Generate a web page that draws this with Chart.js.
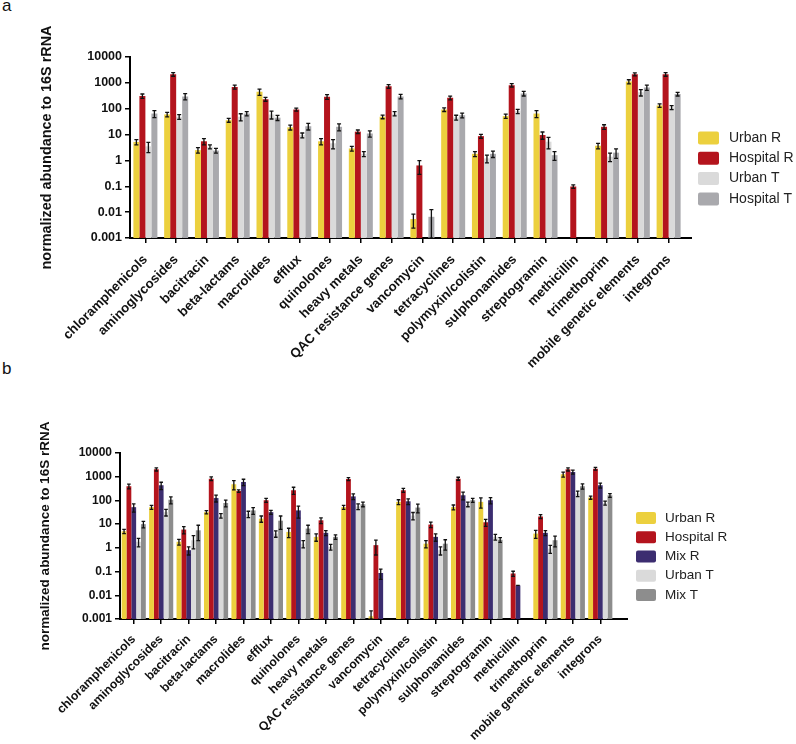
<!DOCTYPE html>
<html>
<head>
<meta charset="utf-8">
<script src="https://cdn.jsdelivr.net/npm/chart.js@4.4.1/dist/chart.umd.min.js"></script>
<style>
  body { margin: 0; background: #fff; }
  #wrap { position: relative; width: 796px; height: 744px; }
  canvas { position: absolute; left: 0; }
  #chartA { top: 0; }
  #chartB { top: 372px; }
  .panel { position: absolute; left: 2px; font: 17px 'Liberation Sans', Arial, sans-serif; color: #111; }
</style>
</head>
<body>
<div id="wrap">
  <div class="panel" style="top:-4px">a</div>
  <div class="panel" style="top:359px">b</div>
  <canvas id="chartA" width="796" height="372"></canvas>
  <canvas id="chartB" width="796" height="372"></canvas>
</div>
<script>
const categories = ['chloramphenicols', 'aminoglycosides', 'bacitracin', 'beta-lactams', 'macrolides', 'efflux',
  'quinolones', 'heavy metals', 'QAC resistance genes', 'vancomycin', 'tetracyclines', 'polymyxin/colistin',
  'sulphonamides', 'streptogramin', 'methicillin', 'trimethoprim', 'mobile genetic elements', 'integrons'];
const yTicks = [0.001, 0.01, 0.1, 1, 10, 100, 1000, 10000];
const yTitle = 'normalized abundance to 16S rRNA';

// panel a
const aUrbanR = [5.2, 60, 2.5, 36, 450, 19, 5.5, 2.9, 49, 0.0054, 93, 1.8, 52, 65, null, 3.7, 1120, 133];
const aHospitalR = [310, 2150, 5.5, 690, 234, 93, 290, 13, 740, 0.64, 263, 8.7, 810, 9.6, 0.098, 20, 2150, 2150];
const aUrbanT = [3.5, 49, 3.4, 49, 60, 9.5, 4.6, 1.8, 65, null, 46, 1.2, 80, 5.3, null, 1.4, 430, 112];
const aHospitalT = [65, 300, 2.4, 65, 45, 21, 20, 11, 300, 0.0066, 56, 1.8, 390, 1.6, null, 2.0, 660, 370];
const aUrbanRErr = [1.2, 12, 0.6, 6, 120, 4, 1.5, 0.6, 8, 0.003, 15, 0.4, 10, 20, null, 0.9, 200, 20];
const aHospitalRErr = [60, 350, 1.5, 120, 40, 12, 60, 2, 120, 0.35, 45, 1.5, 120, 3, 0.015, 4, 300, 350];
const aUrbanTErr = [1.5, 10, 0.6, 15, 20, 2, 1.8, 0.4, 12, null, 10, 0.4, 15, 2.5, null, 0.5, 120, 20];
const aHospitalTErr = [20, 80, 0.5, 12, 10, 6, 6, 3, 60, 0.006, 12, 0.5, 80, 0.6, null, 0.8, 150, 60];

// panel b
const bUrbanR = [5, 52, 1.8, 32, 480, 17, 4.7, 2.9, 52, 0.0013, 87, 1.5, 52, 87, null, 4, 1260, 132];
const bHospitalR = [400, 2040, 5.9, 830, 250, 102, 270, 14.5, 800, 1.3, 270, 9.6, 830, 12, 0.083, 21, 2040, 2190];
const bMixR = [52, 435, 0.8, 126, 600, 32, 38, 4.3, 148, 0.087, 92, 2.9, 165, 102, 0.026, 4.3, 1590, 435];
const bUrbanT = [1.8, 32, 2.1, 23, 27, 4, 1.5, 1.1, 56, null, 23, 0.8, 69, 2.9, null, 0.93, 195, 78];
const bMixT = [10, 107, 5.5, 78, 38, 14, 6.5, 2.9, 69, null, 50, 1.5, 102, 2.2, null, 2.1, 400, 165];
const bUrbanRErr = [1, 10, 0.5, 5, 200, 5, 2, 1, 10, 0.0009, 20, 0.5, 12, 40, null, 1.5, 300, 20];
const bHospitalRErr = [90, 300, 2, 150, 30, 20, 90, 4, 120, 0.8, 50, 2.5, 120, 4, 0.02, 4, 300, 300];
const bMixRErr = [20, 150, 0.3, 40, 180, 6, 20, 1, 40, 0.04, 25, 1, 60, 30, 0, 1, 300, 100];
const bUrbanTErr = [0.7, 10, 1.2, 5, 8, 1.2, 0.5, 0.3, 15, null, 8, 0.3, 15, 0.8, null, 0.35, 50, 15];
const bMixTErr = [3, 35, 3.5, 25, 12, 8, 2.5, 0.6, 15, null, 20, 0.7, 20, 0.5, null, 1, 100, 30];

const colors = {
  urbanR: '#ECD03E', hospitalR: '#B4141D', mixR: '#3C2D70',
  urbanT: '#DADADA', hospitalT: '#A9A9AD', mixT: '#8D8D8D'
};
const FONT = "'Liberation Sans', Arial, sans-serif";

// error bars drawn through the y scale
const errorBars = {
  id: 'errorBars',
  afterDatasetsDraw(chart, args, opts) {
    const ctx = chart.ctx, y = chart.scales.y;
    ctx.save();
    ctx.strokeStyle = '#111';
    ctx.lineWidth = 1.3;
    chart.data.datasets.forEach((ds, i) => {
      chart.getDatasetMeta(i).data.forEach((bar, j) => {
        const v = ds.data[j], e = ds.errors[j];
        if (v == null || e == null) return;
        const top = y.getPixelForValue(v + e);
        const bot = y.getPixelForValue(Math.max(v - e, y.min));
        const x = bar.x, c = opts.cap;
        ctx.beginPath();
        ctx.moveTo(x, top); ctx.lineTo(x, bot);
        ctx.moveTo(x - c, top); ctx.lineTo(x + c, top);
        ctx.moveTo(x - c, bot); ctx.lineTo(x + c, bot);
        ctx.stroke();
      });
    });
    ctx.restore();
  }
};

// legend on the right + small extension of the x axis line
const sideLegend = {
  id: 'sideLegend',
  afterDraw(chart, args, o) {
    const ctx = chart.ctx, area = chart.chartArea;
    ctx.save();
    ctx.strokeStyle = '#000';
    ctx.lineWidth = 2;
    ctx.beginPath();
    ctx.moveTo(area.right - 1, area.bottom);
    ctx.lineTo(area.right + o.extend, area.bottom);
    ctx.stroke();
    ctx.font = o.font;
    ctx.textBaseline = 'middle';
    chart.data.datasets.forEach((ds, i) => {
      const cy = o.y + i * o.step;
      ctx.fillStyle = ds.backgroundColor;
      ctx.beginPath();
      ctx.roundRect(o.x, cy - o.h / 2, o.w, o.h, 2);
      ctx.fill();
      ctx.fillStyle = '#222';
      ctx.fillText(ds.label, o.textX, cy);
    });
    ctx.restore();
  }
};

function makeChart(id, sets, p) {
  return new Chart(document.getElementById(id), {
    type: 'bar',
    data: {
      labels: categories,
      datasets: sets.map(s => ({
        label: s[0], data: s[1], errors: s[2], backgroundColor: s[3],
        borderWidth: 0, categoryPercentage: p.catPct, barPercentage: 1.0
      }))
    },
    options: {
      responsive: false,
      animation: false,
      layout: { padding: { top: p.top, right: p.right, left: 0, bottom: 0 } },
      plugins: {
        legend: { display: false },
        tooltip: { enabled: false },
        errorBars: { cap: p.cap },
        sideLegend: p.legend
      },
      scales: {
        x: {
          afterFit: s => { s.height = p.xHeight; },
          border: { display: true, color: '#000', width: 2 },
          grid: { display: true, offset: false, drawOnChartArea: false, drawTicks: true, tickLength: 5, color: '#000', lineWidth: 1.5 },
          ticks: { autoSkip: false, maxRotation: 45, minRotation: 45, color: '#111', padding: p.catPad,
                   font: { family: FONT, size: p.catFont, weight: 'bold' } }
        },
        y: {
          type: 'logarithmic',
          min: 0.001, max: 10000,
          afterFit: s => { s.width = p.yWidth; },
          afterBuildTicks: s => { s.ticks = yTicks.map(v => ({ value: v })); },
          border: { display: true, color: '#000', width: 2 },
          grid: { display: true, drawOnChartArea: false, drawTicks: true, tickLength: 5, color: '#000', lineWidth: 1.5 },
          ticks: { color: '#111', padding: 3, font: { family: FONT, size: p.tickFont, weight: 'bold' },
                   callback: v => String(v) },
          title: { display: true, text: yTitle, color: '#111', padding: { top: p.titlePad, bottom: 0 },
                   font: { family: FONT, size: p.titleFont, weight: 'bold' } }
        }
      }
    },
    plugins: [errorBars, sideLegend]
  });
}

makeChart('chartA', [
  ['Urban R', aUrbanR, aUrbanRErr, colors.urbanR],
  ['Hospital R', aHospitalR, aHospitalRErr, colors.hospitalR],
  ['Urban T', aUrbanT, aUrbanTErr, colors.urbanT],
  ['Hospital T', aHospitalT, aHospitalTErr, colors.hospitalT]
], {
  top: 57, right: 112, xHeight: 134, yWidth: 130, catPct: 0.78, cap: 2,
  catFont: 13.2, catPad: 9, tickFont: 12.5, titleFont: 14.4, titlePad: 38,
  legend: { x: 698, w: 21, h: 13, y: 138, step: 20.3, textX: 729, font: '14px ' + FONT, extend: 8 }
});

makeChart('chartB', [
  ['Urban R', bUrbanR, bUrbanRErr, colors.urbanR],
  ['Hospital R', bHospitalR, bHospitalRErr, colors.hospitalR],
  ['Mix R', bMixR, bMixRErr, colors.mixR],
  ['Urban T', bUrbanT, bUrbanTErr, colors.urbanT],
  ['Mix T', bMixT, bMixTErr, colors.mixT]
], {
  top: 81, right: 182, xHeight: 125, yWidth: 120, catPct: 0.88, cap: 1.8,
  catFont: 12.3, catPad: 8, tickFont: 12, titleFont: 13.5, titlePad: 37.5,
  legend: { x: 636, w: 20, h: 12, y: 146, step: 19.25, textX: 665, font: '13.5px ' + FONT, extend: 14 }
});
</script>
</body>
</html>
